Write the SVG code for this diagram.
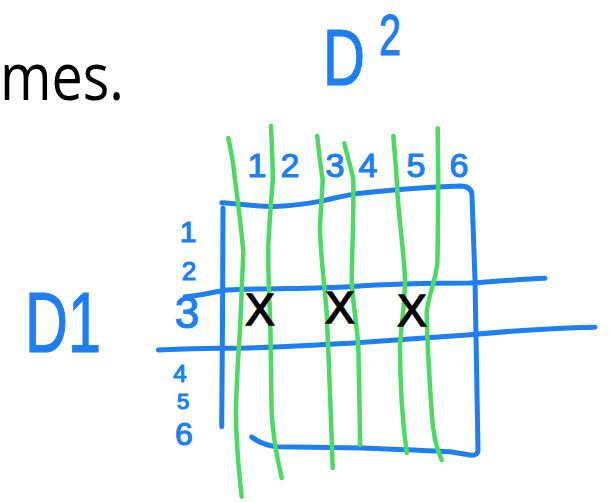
<svg xmlns="http://www.w3.org/2000/svg" width="610" height="502" viewBox="0 0 610 502">
<style>
.b{fill:none;stroke:#1D7FF2;stroke-width:5;stroke-linecap:round;stroke-linejoin:round}
.g{fill:none;stroke:#4CD964;stroke-width:4.5;stroke-linecap:round;stroke-linejoin:round}
.t{font-family:"Liberation Sans",Arial,sans-serif;fill:#1D7FF2;stroke:#1D7FF2;stroke-width:1.2;text-anchor:middle}
.x{font-family:"Liberation Sans",Arial,sans-serif;fill:#000;stroke:#000;stroke-width:1.5;text-anchor:middle;font-size:44px}
</style>
<rect width="610" height="502" fill="#fff"/>
<text x="0" y="100" font-family="'Open Sans','Liberation Sans',sans-serif" font-size="66" textLength="124" lengthAdjust="spacingAndGlyphs" fill="#000">mes.</text>
<g id="labels">
<text class="t" x="323" y="85" font-size="80" textLength="42" lengthAdjust="spacingAndGlyphs" style="text-anchor:start">D</text>
<text class="t" x="379" y="55" font-size="58" textLength="22" lengthAdjust="spacingAndGlyphs" style="text-anchor:start">2</text>
<text class="t" x="25" y="352" font-size="86" textLength="76" lengthAdjust="spacingAndGlyphs" style="text-anchor:start">D1</text>
</g>
<g id="connectors">
<path class="b" d="M221.7,202.7 C245,204 265,208 283,206 C300,205 310,203 323,200.7 C340,197 350,194 363,193 C400,189 430,187 460,186 Q472,186 472,196 L475,280 L478,450 Q478,456 470,455 L450,451.7 C420,450 390,449 363,448 L276.7,446.7 Q262,445 251.7,437"/>
<path class="b" d="M223,208 L222.5,320 L221.7,426.7"/>
<path class="b" d="M185,296.7 C200,296 212,292 226.7,290 C270,288 310,289 350,286.7 C400,283 440,283 470,283 C500,281 525,279 545,278.3"/>
<path class="b" d="M158.3,350 C180,349 205,348 226.7,348.3 C270,348 310,345 350,343.3 C400,340 440,337 466.7,335 C520,330 560,328 595,327.3"/>
<path class="g" d="M228.3,138.3 C232,155 234,168 235,180 C239,210 242,235 243.3,253 C242,280 241,305 240,330 C238,360 236,390 236,413 C236,450 240,480 241.7,496.7"/>
<path class="g" d="M271,126 C272,150 273,168 272.7,180 C271,205 269,225 268.3,246.7 C268,270 269,295 270,313 C271,350 271,385 271.7,413 C273,440 278,462 281.7,478"/>
<path class="g" d="M317.3,136 C319,155 321,168 322.7,180 C322,200 320,215 320,230 C321,260 325,290 326.7,313 C329,360 331,420 332.7,468"/>
<path class="g" d="M344.3,143.3 C348,160 352,170 353.3,180 C354,215 352,250 351.7,280 C353,305 357,325 358.3,346.7 C359,380 360,420 360,445"/>
<path class="g" d="M393.3,136 C395,155 396,168 396.7,180 C398,215 404,250 405,280 C405,305 401,325 400,346.7 C400,390 403,425 406.7,453"/>
<path class="g" d="M437.7,128.3 C438,150 438,168 438.3,180 C438,210 438,240 437.3,263.3 C435,285 428,295 426.7,313 C427,345 430,385 431.7,413 C433,435 437,450 441.7,460"/>
</g>
<g id="numbers">
<text class="t" x="257" y="177" font-size="34">1</text>
<text class="t" x="290" y="177" font-size="34">2</text>
<text class="t" x="335" y="177" font-size="34">3</text>
<text class="t" x="368" y="177" font-size="34">4</text>
<text class="t" x="416" y="177" font-size="34">5</text>
<text class="t" x="459" y="177" font-size="34">6</text>
<text class="t" x="188" y="242" font-size="30">1</text>
<text class="t" x="189" y="280" font-size="26">2</text>
<text class="t" x="187" y="328" font-size="44">3</text>
<text class="t" x="180" y="382" font-size="24">4</text>
<text class="t" x="183" y="409" font-size="22">5</text>
<text class="t" x="184" y="445" font-size="32">6</text>
</g>
<g id="marks">
<text class="x" x="260" y="325">X</text>
<text class="x" x="340" y="323">X</text>
<text class="x" x="412" y="326">X</text>
</g>
</svg>
